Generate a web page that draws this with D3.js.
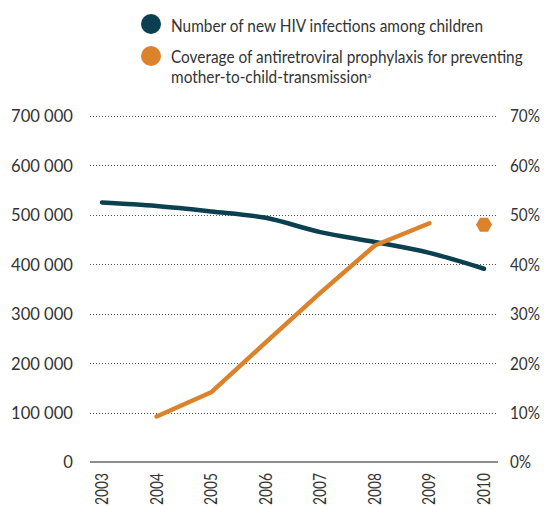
<!DOCTYPE html>
<html>
<head>
<meta charset="utf-8">
<script src="https://cdn.jsdelivr.net/npm/d3@7"></script>
<style>
  body { margin: 0; background: #fff; }
  svg text { font-family: Lato, "Open Sans", sans-serif; fill: #333; }
</style>
</head>
<body>
<div id="chart"></div>
<script>
// datos
var years = [2003, 2004, 2005, 2006, 2007, 2008, 2009, 2010];
var infections = [525000, 518000, 507000, 494000, 465000, 445000, 423000, 391000];
var coverageYears = [2004, 2005, 2006, 2007, 2008, 2009];
var coverage = [9.2, 14.1, 24.2, 34.2, 43.8, 48.3];
var coverage2010 = 48;   // punto suelto (hexágono)
var leftTicks = [0, 100000, 200000, 300000, 400000, 500000, 600000, 700000];
var rightTicks = [0, 10, 20, 30, 40, 50, 60, 70];

var blue = "#0a404f", orange = "#db822b";

var width = 544, height = 506;
var svg = d3.select("#chart").append("svg")
  .attr("width", width).attr("height", height);

// la fuente original es condensada: se estrecha el texto con textLength
function squeeze(sel, factor) {
  sel.each(function() {
    var w = this.getComputedTextLength();
    d3.select(this).attr("textLength", w * factor).attr("lengthAdjust", "spacingAndGlyphs");
  });
}
function factorFor(sel, refWidth) {
  return refWidth / sel.node().getComputedTextLength();
}

// escalas
var x = d3.scalePoint().domain(years).range([102, 484]);
var yL = d3.scaleLinear().domain([0, 700000]).range([462, 116]);
var yR = d3.scaleLinear().domain([0, 70]).range([462, 116]);
var gridX0 = 90, gridX1 = 498;

// rejilla punteada
svg.append("g").selectAll("line")
  .data(leftTicks.filter(function(d) { return d > 0; }))
  .enter().append("line")
    .attr("x1", gridX0).attr("x2", gridX1)
    .attr("y1", function(d) { return Math.round(yL(d)) + 0.5; })
    .attr("y2", function(d) { return Math.round(yL(d)) + 0.5; })
    .attr("stroke", "#555").attr("stroke-width", 1)
    .attr("stroke-dasharray", "1,2");

// línea base
svg.append("line")
  .attr("x1", gridX0).attr("x2", gridX1)
  .attr("y1", yL(0)).attr("y2", yL(0))
  .attr("stroke", "#666").attr("stroke-width", 1.5);

// eje izquierdo
var fmt = function(d) { return d3.format(",")(d).replace(/,/g, " "); };
var leftLabels = svg.append("g").selectAll("text")
  .data(leftTicks).enter().append("text")
    .attr("x", 73).attr("y", function(d) { return yL(d); })
    .attr("dy", "0.36em")
    .attr("text-anchor", "end")
    .style("font-size", "18px")
    .text(fmt);
squeeze(leftLabels, factorFor(leftLabels.filter(function(d) { return d == 700000; }), 62));

// eje derecho
var rightLabels = svg.append("g").selectAll("text")
  .data(rightTicks).enter().append("text")
    .attr("x", 510).attr("y", function(d) { return yR(d); })
    .attr("dy", "0.36em")
    .style("font-size", "18px")
    .text(function(d) { return d + "%"; });
squeeze(rightLabels, factorFor(rightLabels.filter(function(d) { return d == 70; }), 30));

// etiquetas de años (giradas)
var yearLabels = svg.append("g").selectAll("text")
  .data(years).enter().append("text")
    .attr("transform", function(d) { return "translate(" + (x(d) + 6) + ",473) rotate(-90)"; })
    .attr("text-anchor", "end")
    .style("font-size", "17px")
    .text(function(d) { return d; });
squeeze(yearLabels, factorFor(yearLabels.filter(function(d) { return d == 2003; }), 32));

// línea de nuevas infecciones
var lineL = d3.line()
  .x(function(d, i) { return x(years[i]); })
  .y(function(d) { return yL(d); })
  .curve(d3.curveMonotoneX);
svg.append("path")
  .datum(infections)
  .attr("d", lineL)
  .attr("fill", "none").attr("stroke", blue)
  .attr("stroke-width", 4.5).attr("stroke-linecap", "round");

// línea de cobertura
var lineR = d3.line()
  .x(function(d, i) { return x(coverageYears[i]); })
  .y(function(d) { return yR(d); });
svg.append("path")
  .datum(coverage)
  .attr("d", lineR)
  .attr("fill", "none").attr("stroke", orange)
  .attr("stroke-width", 4.5).attr("stroke-linecap", "round")
  .attr("stroke-linejoin", "round");

// hexágono 2010
var hx = x(2010), hy = yR(coverage2010), hr = 8;
var hex = d3.range(6).map(function(k) {
  var a = Math.PI / 3 * k;
  return [hx + hr * Math.cos(a), hy + hr * Math.sin(a)];
});
svg.append("path")
  .attr("d", "M" + hex.join("L") + "Z")
  .attr("fill", orange);

// leyenda
var legend = svg.append("g");
legend.append("circle").attr("cx", 151).attr("cy", 24).attr("r", 10).attr("fill", blue);
legend.append("circle").attr("cx", 151).attr("cy", 56).attr("r", 10).attr("fill", orange);
var l1 = legend.append("text").attr("x", 171).attr("y", 32).style("font-size", "17px")
  .text("Number of new HIV infections among children");
var l2 = legend.append("text").attr("x", 171).attr("y", 63).style("font-size", "17px")
  .text("Coverage of antiretroviral prophylaxis for preventing");
var l3 = legend.append("text").attr("x", 171).attr("y", 83).style("font-size", "17px");
l3.append("tspan").text("mother-to-child-transmission");
l3.append("tspan").attr("dy", "-5").style("font-size", "8px").text("a");
var lf = factorFor(l1, 312);
squeeze(l1, lf);
squeeze(l2, lf);
squeeze(l3, lf);
</script>
</body>
</html>
